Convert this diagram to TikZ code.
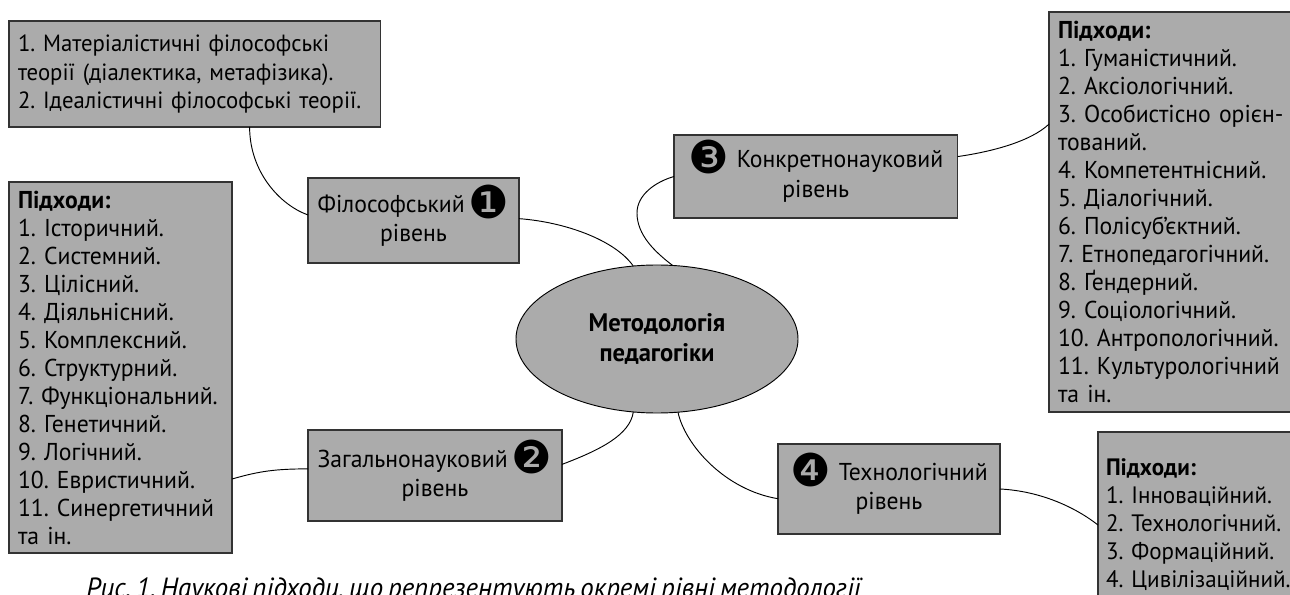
\documentclass[tikz,border=0pt]{standalone}
\usepackage{fontspec}
\setmainfont[FakeStretch=0.97,WordSpace=0.7]{PT Sans}
\newfontfamily\dejavu{DejaVu Sans}
\usetikzlibrary{shapes.geometric}
\definecolor{boxgray}{HTML}{ABABAB}
\definecolor{edgegray}{HTML}{333333}
\newcommand{\badge}[1]{\raisebox{-4.5pt}[0pt][0pt]{\fontsize{34}{34}\selectfont\dejavu #1}}
\newcommand{\ind}{\hspace*{6.75pt}}
\frenchspacing
\tikzset{
  x=0.75pt,y=-0.75pt,
  box/.style={draw=edgegray,line width=0.9pt,fill=boxgray,anchor=north west,inner sep=0pt,outer sep=0pt,
    font=\fontsize{18.3}{21}\selectfont},
  listbox/.style={box,align=left},
  levelbox/.style={box,align=center,font=\fontsize{18.3}{22}\selectfont},
  hub/.style={ellipse,draw=black,line width=0.7pt,fill=boxgray,inner sep=0pt,outer sep=0pt,align=center,
    minimum width=211.5pt,minimum height=111pt,font=\fontsize{19}{22}\selectfont\bfseries},
  link/.style={draw=black,line width=0.7pt},
  caption/.style={anchor=base west,inner sep=0pt,font=\fontsize{20.8}{23}\selectfont\itshape}
}
\begin{document}
\begin{tikzpicture}
\useasboundingbox (0,0) rectangle (1290,595);
\clip (0,0) rectangle (1290,595);
\node[listbox,text width=278.6pt,minimum height=79.5pt,font=\fontsize{17.6}{21.5}\selectfont] (theory) at (9,21) {\ind 1. Матеріалістичні філософські\\\ind теорії (діалектика, метафізика).\\\ind 2. Ідеалістичні філософські теорії.};
\node[listbox,text width=167.25pt,minimum height=278.25pt] (general) at (9,182) {\ind\textbf{Підходи:}\\\ind 1. Історичний.\\\ind 2. Системний.\\\ind 3. Цілісний.\\\ind 4. Діяльнісний.\\\ind 5. Комплексний.\\\ind 6. Структурний.\\\ind 7. Функціональний.\\\ind 8. Генетичний.\\\ind 9. Логічний.\\\ind 10. Евристичний.\\\ind 11. Синергетичний\\\ind та ін.};
\node[listbox,text width=188.25pt,minimum height=300pt] (concrete) at (1049,12) {\ind\textbf{Підходи:}\\\ind 1. Гуманістичний.\\\ind 2. Аксіологічний.\\\ind 3. Особистісно орієн-\\\ind тований.\\\ind 4. Компетентнісний.\\\ind 5. Діалогічний.\\\ind 6. Полісуб’єктний.\\\ind 7. Етнопедагогічний.\\\ind 8. Ґендерний.\\\ind 9. Соціологічний.\\\ind 10. Антропологічний.\\\ind 11. Культурологічний\\\ind та ін.};
\node[listbox,text width=151.5pt,minimum height=139.5pt,font=\fontsize{17.8}{21}\selectfont] (techlist) at (1098,432) {\hspace*{6pt}\textbf{Підходи:}\\\hspace*{6pt}1. Інноваційний.\\\hspace*{6pt}2. Технологічний.\\\hspace*{6pt}3. Формаційний.\\\hspace*{6pt}4. Цивілізаційний.};
\node[levelbox,minimum width=158.25pt,minimum height=63.75pt] (phil) at (308,178) {Філософський\hspace{3pt}\badge{❶}\\рівень};
\node[levelbox,minimum width=190.5pt,minimum height=68.25pt] (gen) at (308,430) {Загальнонауковий\hspace{3pt}\badge{❷}\\рівень};
\node[levelbox,minimum width=212.7pt,minimum height=62.25pt] (con) at (674,135) {\badge{❸}\hspace{6pt}Конкретнонауковий\\рівень};
\node[levelbox,minimum width=166.5pt,minimum height=67.5pt] (tec) at (778,444) {\badge{❹}\hspace{6pt}Технологічний\\рівень};
\node[hub] (hub) at (657,339) {Методологія\\педагогіки};
\draw[link] (theory.-44.2) .. controls +(0,45) and (280,205) .. (phil.177);
\draw[link] (phil.1.4) .. controls (565,222) and (615,240) .. (hub.108.8);
\draw[link] (con.west) .. controls (655,182) and (637,195) .. (637,213) .. controls (637,235) and (655,252) .. (hub.78.5);
\draw[link] (con.8.6) .. controls (990,152) and (1030,142) .. (concrete.145);
\draw[link] (gen.177.1) .. controls (275,469) and (260,471) .. (general.-45.7);
\draw[link] (gen.5.6) .. controls (600,450) and (630,435) .. (hub.252);
\draw[link] (hub.-74.9) .. controls (685,445) and (725,490) .. (tec.185.7);
\draw[link] (tec.0.5) .. controls (1040,491) and (1075,507) .. (techlist.west);
\node[caption] (cap) at (86,597) {Рис. 1. Наукові підходи, що репрезентують окремі рівні методології};
\end{tikzpicture}
\end{document}
